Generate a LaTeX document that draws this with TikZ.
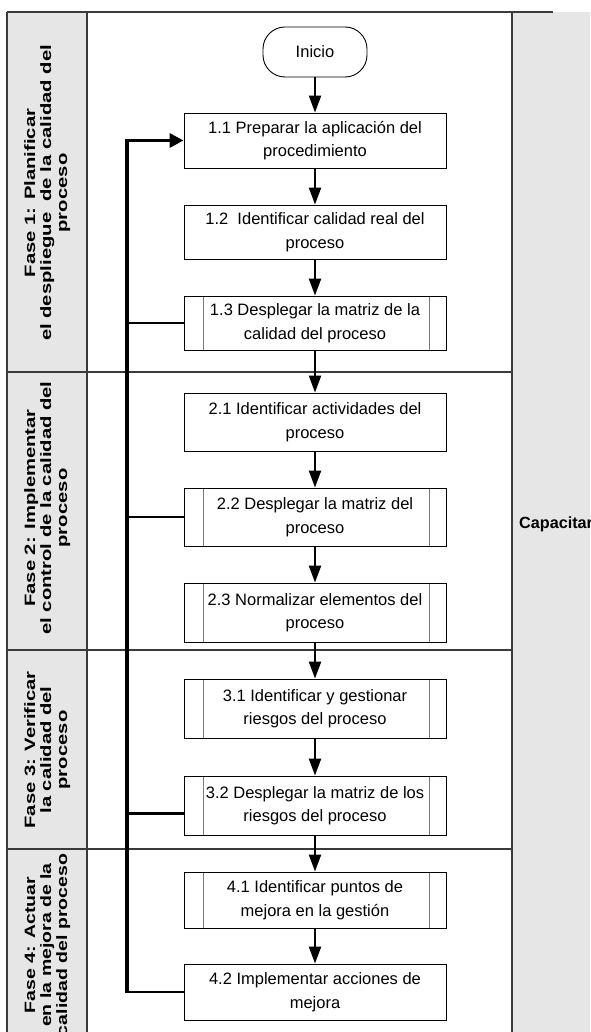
\documentclass[tikz,border=0pt]{standalone}
\usepackage{fontspec}
\setmainfont{Liberation Sans}
\usepackage{graphicx}
\usetikzlibrary{arrows.meta}
\definecolor{lanegray}{HTML}{E6E6E6}
\definecolor{framec}{HTML}{3A3A3A}
\definecolor{innerc}{HTML}{7A7A7A}
\begin{document}
\begin{tikzpicture}[x=1pt,y=-1pt,
  procbox/.style={draw=black, line width=0.9pt, fill=white, minimum width=262pt,
    align=center, font=\fontsize{16.5}{23.5}\selectfont, inner sep=2pt},
  subproc/.style={procbox, path picture={
    \draw[innerc, line width=0.9pt]
      ([xshift=19pt]path picture bounding box.north west) -- ([xshift=19pt]path picture bounding box.south west)
      ([xshift=-17pt]path picture bounding box.north east) -- ([xshift=-17pt]path picture bounding box.south east);}},
  phase/.style={rotate=90, inner sep=0pt, font=\fontsize{15}{16}\selectfont\bfseries},
  flow/.style={-{Triangle[length=17pt,width=12pt]}, line width=2.3pt},
  fbline/.style={line width=3.3pt},
  stub/.style={line width=2.3pt},
  frame/.style={draw=framec, line width=1.1pt}
]
\useasboundingbox (0,0) rectangle (590,1032);
\clip (0,0) rectangle (590,1032);
\fill[white] (0,0) rectangle (590,1032);
% lanes
\fill[lanegray] (7,12) rectangle (87,1040);
\fill[lanegray] (512,12) rectangle (595,1040);
\draw[frame] (7,12) -- (553,12);
\draw[frame] (7,12) -- (7,1040);
\draw[frame] (87,12) -- (87,1040);
\draw[frame] (512,12) -- (512,1040);
\draw[frame] (7,372) -- (512,372);
\draw[frame] (7,650) -- (512,650);
\draw[frame] (7,849) -- (512,849);

% phase labels
\node[phase] (f1) at (48,193) {\scalebox{1.35}[1]{\begin{tabular}{@{}c@{}}Fase 1: Planificar\\el despliegue\ \ de la calidad del\\proceso\end{tabular}}};
\node[phase] (f2) at (48,508) {\scalebox{1.35}[1]{\begin{tabular}{@{}c@{}}Fase 2: Implementar\\el control de la calidad del\\proceso\end{tabular}}};
\node[phase] (f3) at (48,750) {\scalebox{1.35}[1]{\begin{tabular}{@{}c@{}}Fase 3: Verificar\\la calidad del\\proceso\end{tabular}}};
\node[phase] (f4) at (48,945) {\scalebox{1.3}[1]{\begin{tabular}{@{}c@{}}Fase 4: Actuar\\en la mejora de la\\calidad del proceso\end{tabular}}};

\node[anchor=west, inner sep=0pt, font=\fontsize{16.2}{18}\selectfont\bfseries] (cap) at (519,524) {Capacitar};

% nodes
\node[draw=black, line width=0.9pt, fill=white, rounded corners=22pt, minimum width=104pt, minimum height=50pt,
  font=\fontsize{16.5}{23.5}\selectfont] (start) at (315,52) {Inicio};
\node[procbox, minimum height=55pt] (b11) at (315,140.5) {1.1 Preparar la aplicación del\\procedimiento};
\node[procbox, minimum height=54pt] (b12) at (315,232) {1.2\ \ Identificar calidad real del\\proceso};
\node[subproc, minimum height=54pt] (b13) at (315,323) {1.3 Desplegar la matriz de la\\calidad del proceso};
\node[procbox, minimum height=58pt] (b21) at (315,422) {2.1 Identificar actividades del\\proceso};
\node[subproc, minimum height=58pt] (b22) at (315,517) {2.2 Desplegar la matriz del\\proceso};
\node[subproc, minimum height=59pt] (b23) at (315,612.5) {2.3 Normalizar elementos del\\proceso};
\node[subproc, minimum height=59pt] (b31) at (315,708.5) {3.1 Identificar y gestionar\\riesgos del proceso};
\node[subproc, minimum height=59pt] (b32) at (315,805.5) {3.2 Desplegar la matriz de los\\riesgos del proceso};
\node[subproc, minimum height=56pt] (b41) at (315,900) {4.1 Identificar puntos de\\mejora en la gestión};
\node[procbox, minimum height=56pt] (b42) at (315,992) {4.2 Implementar acciones de\\mejora};

% main flow
\draw[flow] (start) -- (b11);
\draw[flow] (b11) -- (b12);
\draw[flow] (b12) -- (b13);
\draw[flow] (b13) -- (b21);
\draw[flow] (b21) -- (b22);
\draw[flow] (b22) -- (b23);
\draw[flow] (b23) -- (b31);
\draw[flow] (b31) -- (b32);
\draw[flow] (b32) -- (b41);
\draw[flow] (b41) -- (b42);

% feedback loop
\coordinate (fbtop) at (127,140.5);
\coordinate (fbbot) at (127,993);
\draw[stub] (b13.west) -- (b13.west -| fbtop);
\draw[stub] (b22.west) -- (b22.west -| fbtop);
\draw[stub] ([yshift=-8pt]b32.west) -- ([yshift=-8pt]b32.west -| fbtop);
\draw[stub] (b42.west) -- (b42.west -| fbtop);
\draw[fbline, -{Triangle[length=14pt,width=14pt]}] (fbbot) -- (fbtop) -- (b11.west);
\end{tikzpicture}
\end{document}
